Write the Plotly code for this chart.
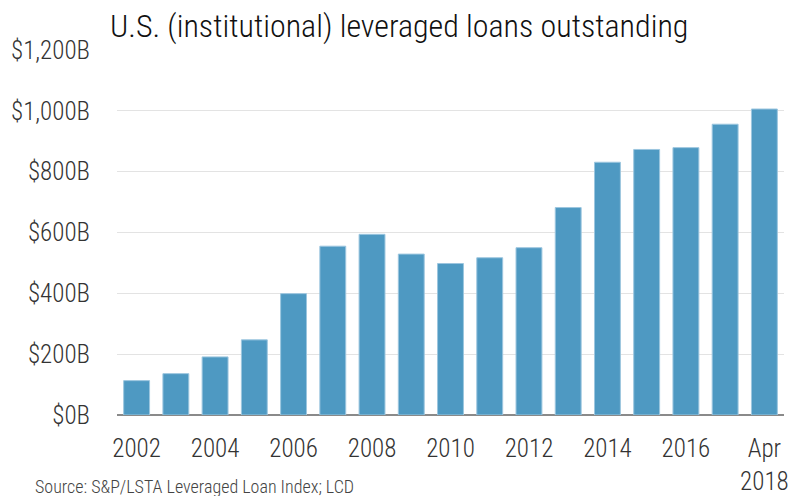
import plotly.graph_objects as go

# Outstanding U.S. institutional leveraged loans, $ billions (year-end; 2018 = April)
periods = ["2002", "2003", "2004", "2005", "2006", "2007", "2008", "2009", "2010",
           "2011", "2012", "2013", "2014", "2015", "2016", "2017", "Apr 2018"]
outstanding = [113, 136, 191, 247, 399, 555, 594, 529, 498,
               517, 550, 682, 831, 873, 879, 956, 1006]
tick_text = ["2002", "", "2004", "", "2006", "", "2008", "", "2010",
             "", "2012", "", "2014", "", "2016", "", "Apr<br>2018"]
y_ticks = [0, 200, 400, 600, 800, 1000, 1200]
y_tick_text = ["$0B", "$200B", "$400B", "$600B", "$800B", "$1,000B", "$1,200B"]

FONT = "Roboto Condensed, DejaVu Sans Condensed, Liberation Sans Narrow, sans-serif"
TEXT = "#333333"

W, H = 790, 496
L, R, T, B = 117, 6, 50, 81

fig = go.Figure(
    go.Bar(
        x=periods,
        y=outstanding,
        marker=dict(color="#4e99c2", line=dict(color="#9cc6df", width=1)),
        hoverinfo="x+y",
    )
)

fig.update_layout(
    width=W,
    height=H,
    margin=dict(l=L, r=R, t=T, b=B),
    paper_bgcolor="white",
    plot_bgcolor="white",
    bargap=0.34,
    showlegend=False,
    font=dict(family=FONT, color=TEXT, weight=300),
    title=dict(
        text="U.S. (institutional) leveraged loans outstanding",
        font=dict(family=FONT, size=32, color="#111111", weight=300),
        xref="container", x=110 / W, xanchor="left",
        yref="container", y=1 - 26 / H, yanchor="middle",
    ),
    xaxis=dict(
        type="category",
        tickmode="array",
        tickvals=periods,
        ticktext=tick_text,
        tickfont=dict(size=25, color=TEXT, weight=300),
        ticks="outside",
        ticklen=11,
        tickcolor="rgba(0,0,0,0)",
        showgrid=False,
        showline=False,
        zeroline=False,
        automargin=False,
    ),
    yaxis=dict(
        range=[0, 1200],
        tickmode="array",
        tickvals=y_ticks,
        ticktext=y_tick_text,
        tickfont=dict(size=25, color=TEXT, weight=300),
        ticks="outside",
        ticklen=21,
        tickcolor="rgba(0,0,0,0)",
        showgrid=True,
        gridcolor="#e3e3e3",
        gridwidth=1,
        zeroline=True,
        zerolinecolor="#8a8a8a",
        zerolinewidth=1.5,
        showline=False,
        automargin=False,
    ),
    annotations=[
        dict(
            text="Source: S&P/LSTA Leveraged Loan Index; LCD",
            xref="paper", yref="paper",
            x=(33 - L) / (W - L - R), y=(H - B - 486) / (H - T - B),
            xanchor="left", yanchor="middle",
            showarrow=False,
            font=dict(family=FONT, size=18, color="#444444", weight=300),
        )
    ],
)

fig.write_html("out.html")
